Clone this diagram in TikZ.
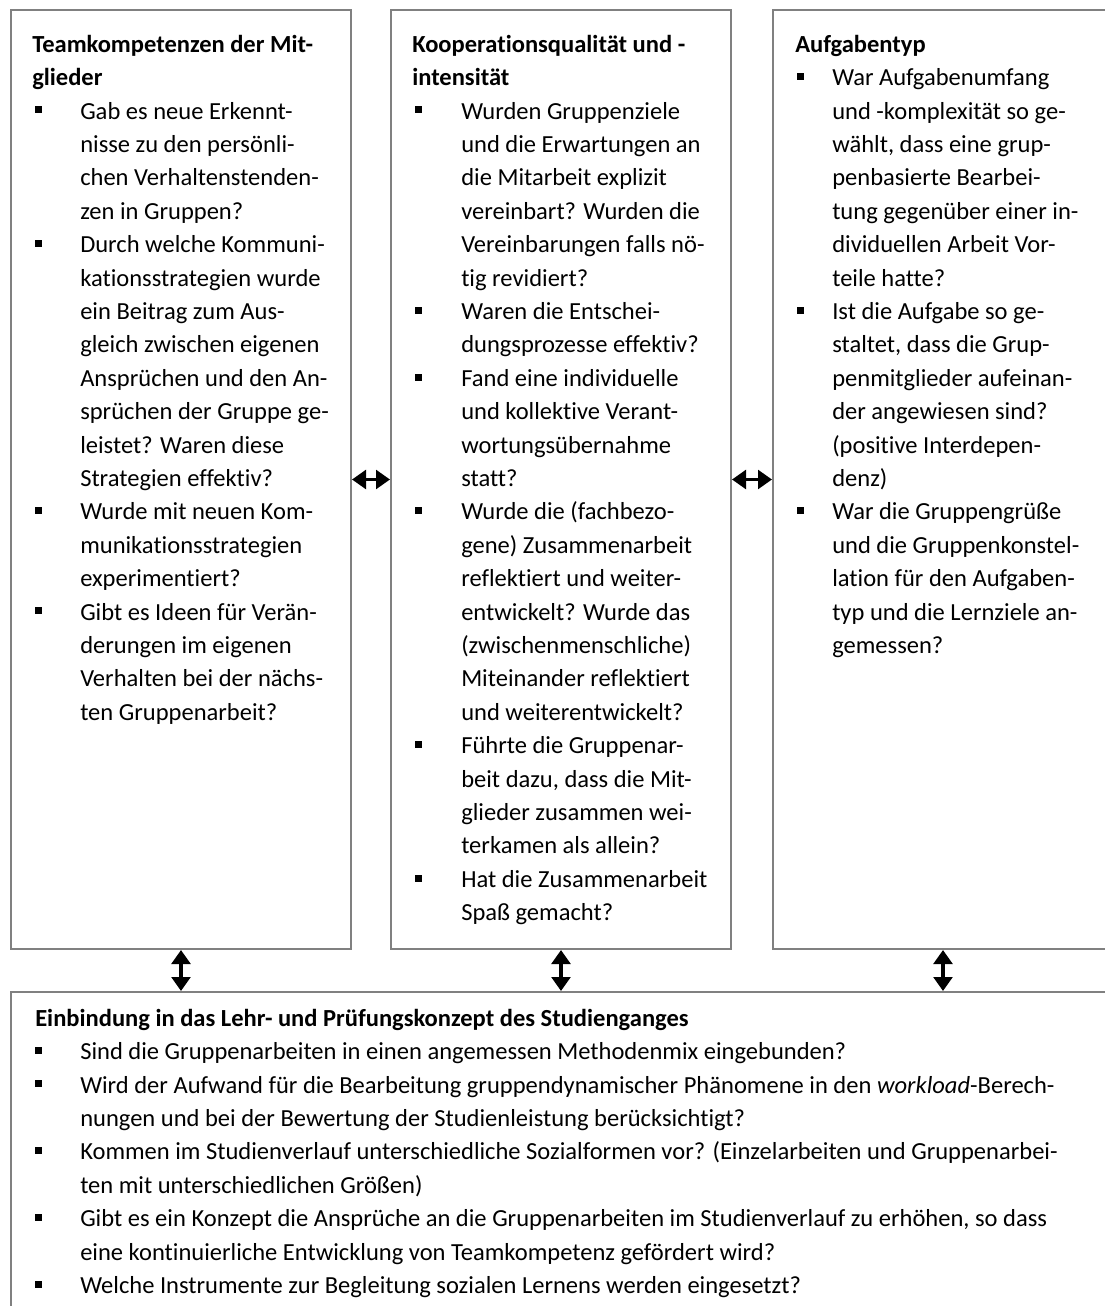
\documentclass[tikz,border=0pt]{standalone}
\usepackage{fontspec}
\setmainfont{Carlito}[Ligatures={NoCommon,NoContextual}]
\usetikzlibrary{arrows.meta}
\definecolor{boxgray}{RGB}{128,128,128}
\newcommand\bu[1]{\makebox[#1][l]{\hspace*{17.6pt}\rule[4.3pt]{5.2pt}{5.2pt}}}
\newcommand\cn[1]{\hspace*{#1}}
\newcommand\hd[2]{\rule{0pt}{18pt}\hspace*{#1}\textbf{#2}}
\begin{document}
\begin{tikzpicture}[x=0.75pt,y=-0.75pt,
  panel/.style={draw=boxgray, line width=1.5pt, inner sep=0pt, minimum width=255pt},
  txt/.style={anchor=north west, inner sep=0pt, align=left, font=\fontsize{18.4pt}{25.05pt}\selectfont},
  arr/.style={line width=2.6pt, {Triangle[width=14pt,length=10.5pt]}-{Triangle[width=14pt,length=10.5pt]}}]
\useasboundingbox (0,0) rectangle (1105,1306);
\clip (0,0) rectangle (1105,1306);
\fill[white] (0,0) rectangle (1105,1306);
\node[panel, minimum height=704.25pt] (L) at (181,479.5) {};
\node[panel, minimum height=704.25pt] (M) at (561,479.5) {};
\node[panel, minimum height=704.25pt] (R) at (943,479.5) {};
\node[panel, minimum width=832.5pt, minimum height=300pt] (B) at (566,1192) {};

\node[txt] (Lt) at (11,28) {\hd{15.75pt}{Teamkompetenzen der Mit-}\\
\cn{15.75pt}\textbf{glieder}\\
\bu{51.75pt}Gab es neue Erkennt-\\
\cn{51.75pt}nisse zu den persönli-\\
\cn{51.75pt}chen Verhaltenstenden-\\
\cn{51.75pt}zen in Gruppen?\\
\bu{51.75pt}Durch welche Kommuni-\\
\cn{51.75pt}kationsstrategien wurde\\
\cn{51.75pt}ein Beitrag zum Aus-\\
\cn{51.75pt}gleich zwischen eigenen\\
\cn{51.75pt}Ansprüchen und den An-\\
\cn{51.75pt}sprüchen der Gruppe ge-\\
\cn{51.75pt}leistet? Waren diese\\
\cn{51.75pt}Strategien effektiv?\\
\bu{51.75pt}Wurde mit neuen Kom-\\
\cn{51.75pt}munikationsstrategien\\
\cn{51.75pt}experimentiert?\\
\bu{51.75pt}Gibt es Ideen für Verän-\\
\cn{51.75pt}derungen im eigenen\\
\cn{51.75pt}Verhalten bei der nächs-\\
\cn{51.75pt}ten Gruppenarbeit?};

\node[txt] (Mt) at (391,28) {\hd{15.75pt}{Kooperationsqualität und -}\\
\cn{15.75pt}\textbf{intensität}\\
\bu{52.5pt}Wurden Gruppenziele\\
\cn{52.5pt}und die Erwartungen an\\
\cn{52.5pt}die Mitarbeit explizit\\
\cn{52.5pt}vereinbart? Wurden die\\
\cn{52.5pt}Vereinbarungen falls nö-\\
\cn{52.5pt}tig revidiert?\\
\bu{52.5pt}Waren die Entschei-\\
\cn{52.5pt}dungsprozesse effektiv?\\
\bu{52.5pt}Fand eine individuelle\\
\cn{52.5pt}und kollektive Verant-\\
\cn{52.5pt}wortungsübernahme\\
\cn{52.5pt}statt?\\
\bu{52.5pt}Wurde die (fachbezo-\\
\cn{52.5pt}gene) Zusammenarbeit\\
\cn{52.5pt}reflektiert und weiter-\\
\cn{52.5pt}entwickelt? Wurde das\\
\cn{52.5pt}(zwischenmenschliche)\\
\cn{52.5pt}Miteinander reflektiert\\
\cn{52.5pt}und weiterentwickelt?\\
\bu{52.5pt}Führte die Gruppenar-\\
\cn{52.5pt}beit dazu, dass die Mit-\\
\cn{52.5pt}glieder zusammen wei-\\
\cn{52.5pt}terkamen als allein?\\
\bu{52.5pt}Hat die Zusammenarbeit\\
\cn{52.5pt}Spaß gemacht?};

\node[txt] (Rt) at (773,28) {\hd{16.5pt}{Aufgabentyp}\\
\bu{44.25pt}War Aufgabenumfang\\
\cn{44.25pt}und -komplexität so ge-\\
\cn{44.25pt}wählt, dass eine grup-\\
\cn{44.25pt}penbasierte Bearbei-\\
\cn{44.25pt}tung gegenüber einer in-\\
\cn{44.25pt}dividuellen Arbeit Vor-\\
\cn{44.25pt}teile hatte?\\
\bu{44.25pt}Ist die Aufgabe so ge-\\
\cn{44.25pt}staltet, dass die Grup-\\
\cn{44.25pt}penmitglieder aufeinan-\\
\cn{44.25pt}der angewiesen sind?\\
\cn{44.25pt}(positive Interdepen-\\
\cn{44.25pt}denz)\\
\bu{44.25pt}War die Gruppengrüße\\
\cn{44.25pt}und die Gruppenkonstel-\\
\cn{44.25pt}lation für den Aufgaben-\\
\cn{44.25pt}typ und die Lernziele an-\\
\cn{44.25pt}gemessen?};

\node[txt] (Bt) at (11,1002) {\hd{18pt}{Einbindung in das Lehr- und Prüfungskonzept des Studienganges}\\
\bu{51.75pt}Sind die Gruppenarbeiten in einen angemessen Methodenmix eingebunden?\\
\bu{51.75pt}Wird der Aufwand für die Bearbeitung gruppendynamischer Phänomene in den \textit{workload}-Berech-\\
\cn{51.75pt}nungen und bei der Bewertung der Studienleistung berücksichtigt?\\
\bu{51.75pt}Kommen im Studienverlauf unterschiedliche Sozialformen vor? (Einzelarbeiten und Gruppenarbei-\\
\cn{51.75pt}ten mit unterschiedlichen Größen)\\
\bu{51.75pt}Gibt es ein Konzept die Ansprüche an die Gruppenarbeiten im Studienverlauf zu erhöhen, so dass\\
\cn{51.75pt}eine kontinuierliche Entwicklung von Teamkompetenz gefördert wird?\\
\bu{51.75pt}Welche Instrumente zur Begleitung sozialen Lernens werden eingesetzt?};

\draw[arr] (L.east) -- (M.west);
\draw[arr] (M.east) -- (R.west);
\draw[arr] (L.south) -- (L.south |- B.north);
\draw[arr] (M.south) -- (M.south |- B.north);
\draw[arr] (R.south) -- (R.south |- B.north);
\end{tikzpicture}
\end{document}
